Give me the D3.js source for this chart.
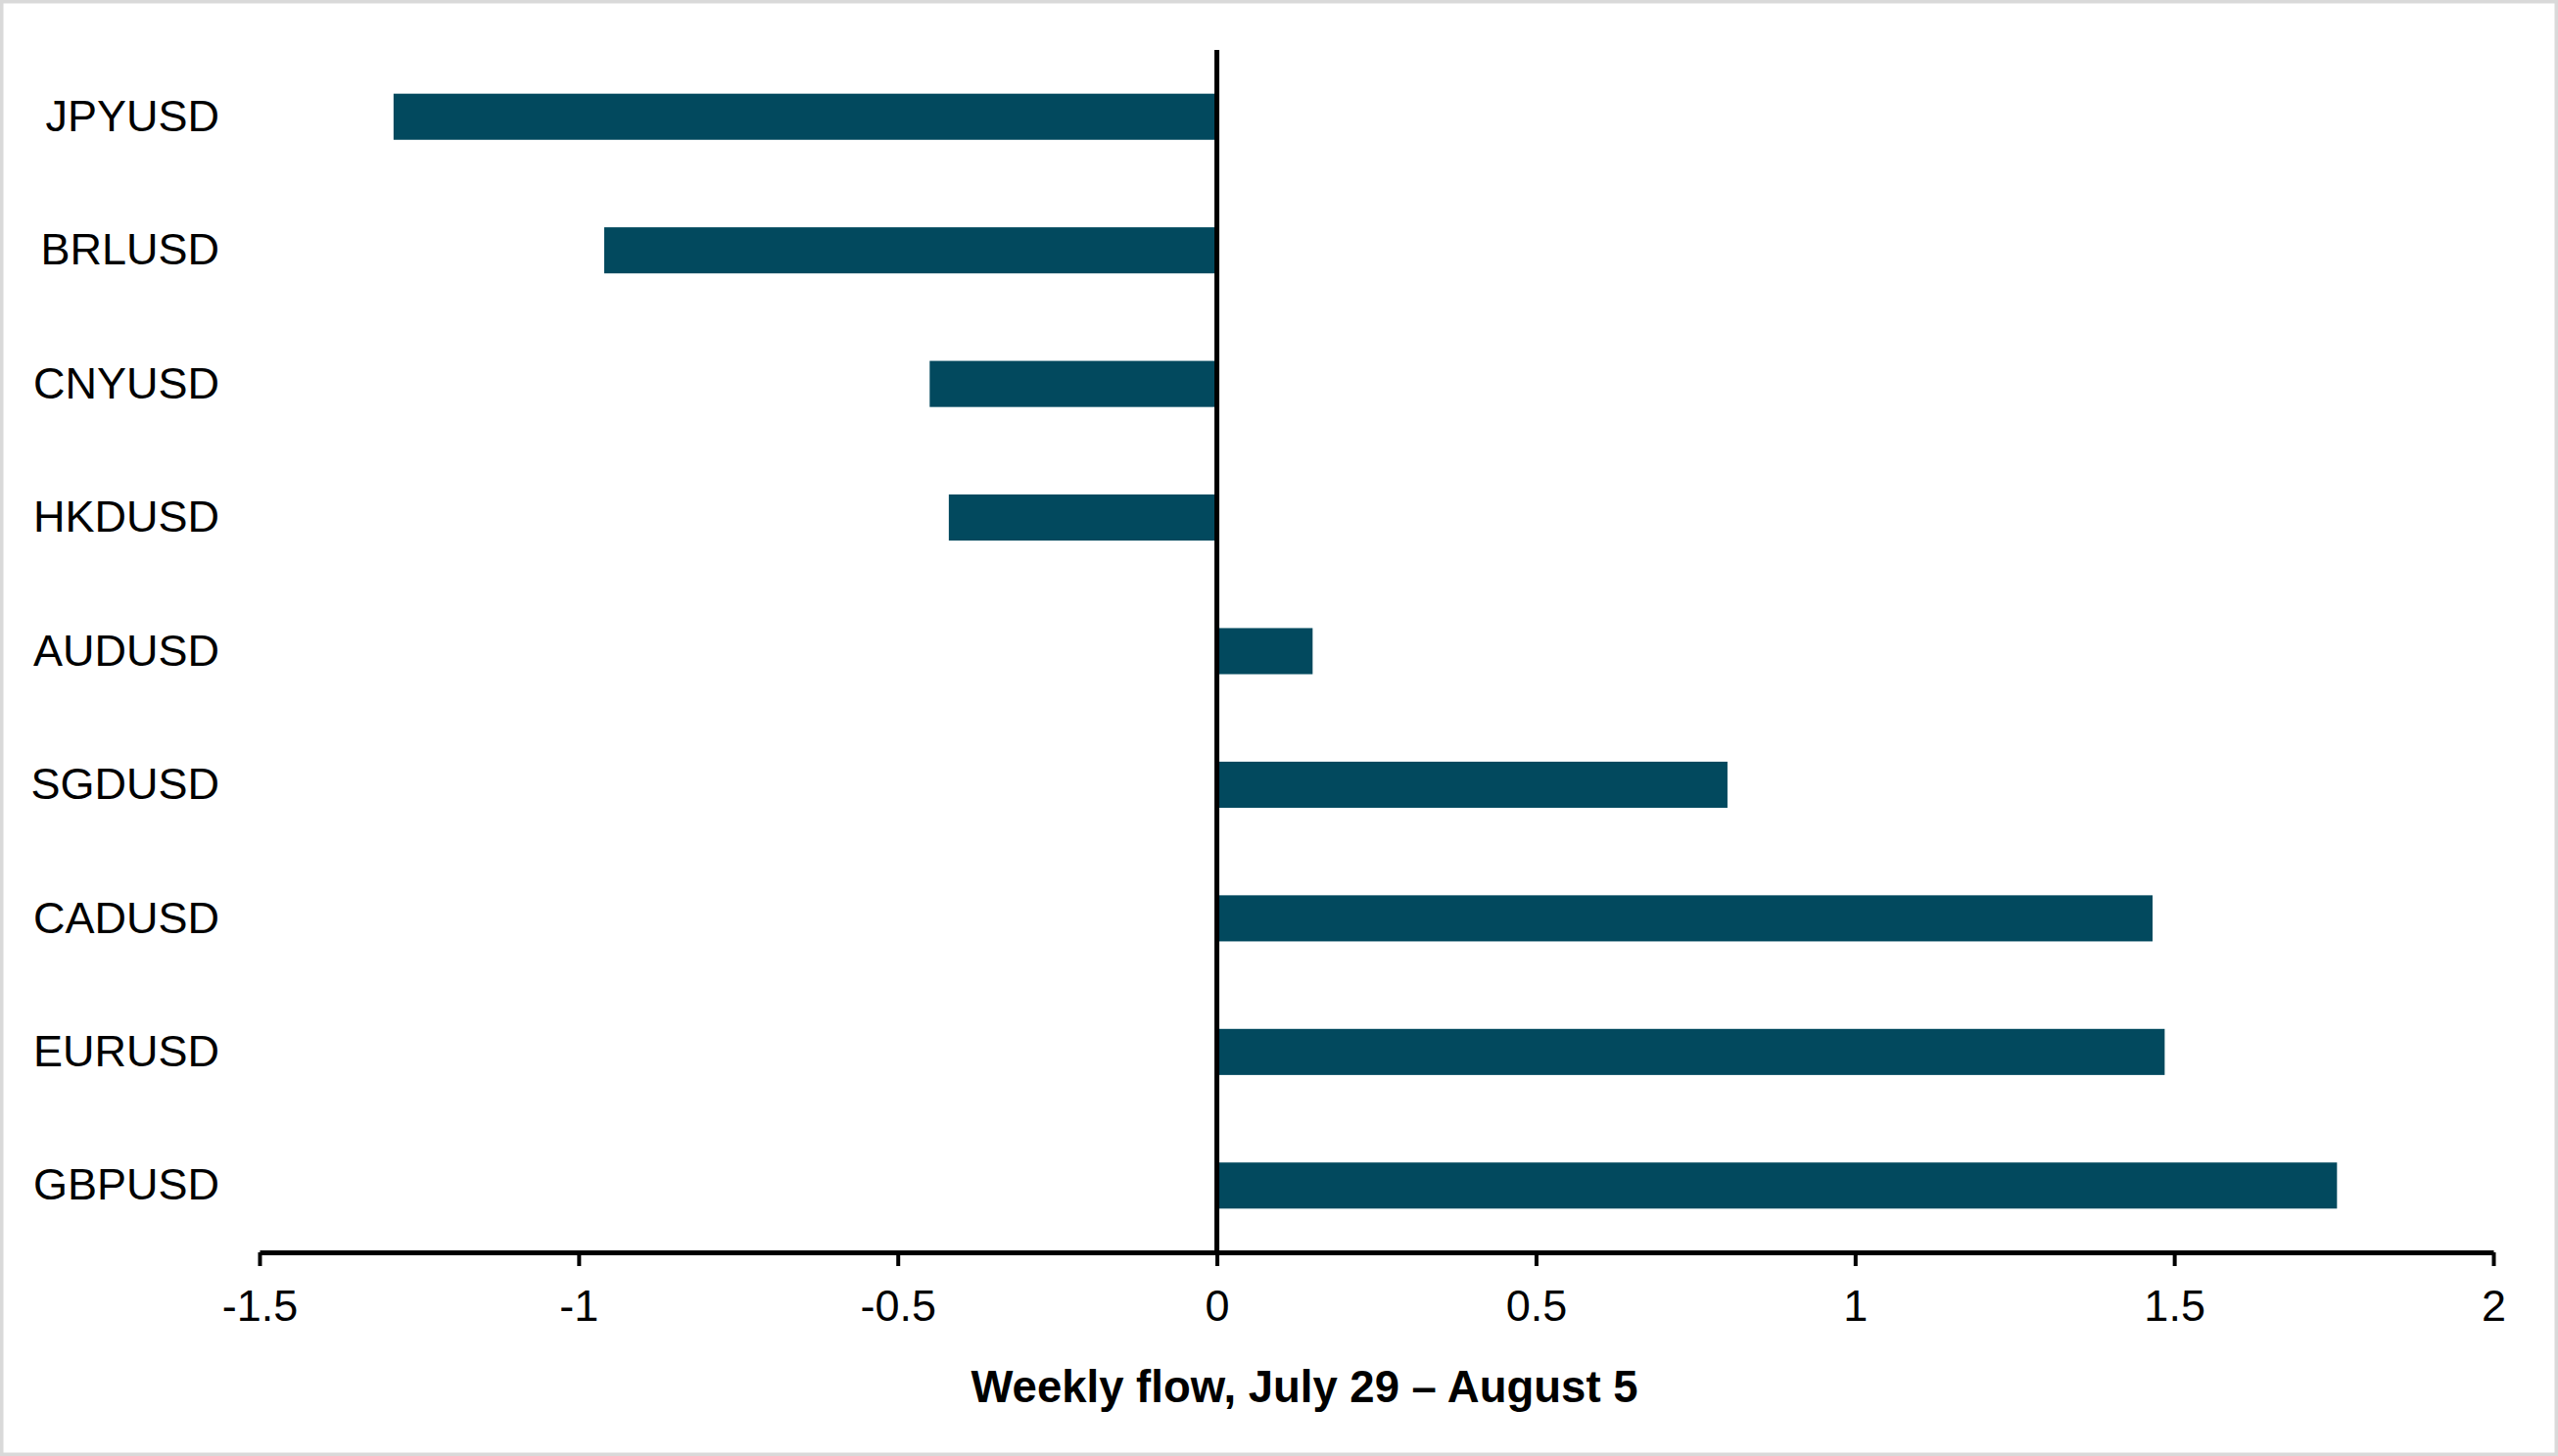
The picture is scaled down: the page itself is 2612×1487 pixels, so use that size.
<!DOCTYPE html>
<html>
<head>
<meta charset="utf-8">
<script src="https://cdn.jsdelivr.net/npm/d3@7"></script>
<style>
  body { margin: 0; background: #fff; }
  svg { display: block; font-family: "Liberation Sans", Arial, sans-serif; }
</style>
</head>
<body>
<div id="chart"></div>
<script>
// Data
const categories = ['JPYUSD', 'BRLUSD', 'CNYUSD', 'HKDUSD', 'AUDUSD', 'SGDUSD', 'CADUSD', 'EURUSD', 'GBPUSD'];
const flows = [-1.29, -0.96, -0.45, -0.42, 0.15, 0.80, 1.466, 1.485, 1.755];
const tickValues = [-1.5, -1, -0.5, 0, 0.5, 1, 1.5, 2];
const tickLabels = ['-1.5', '-1', '-0.5', '0', '0.5', '1', '1.5', '2'];
const axisTitle = 'Weekly flow, July 29 \u2013 August 5';

const width = 2612;
const height = 1487;
const barColor = '#02495e';
const fontSize = 45;

const svg = d3.select('#chart').append('svg')
    .attr('width', width)
    .attr('height', height);

// white page with a thin grey frame
svg.append('rect')
    .attr('x', 1.75).attr('y', 1.75)
    .attr('width', width - 3.5).attr('height', height - 3.5)
    .attr('fill', '#fff')
    .attr('stroke', '#d9d9d9')
    .attr('stroke-width', 3.5);

const x = d3.scaleLinear()
    .domain([-1.5, 2])
    .range([265, 2546]);

const y = d3.scaleBand()
    .domain(categories)
    .range([51, 1279])
    .paddingInner(0.655)
    .paddingOuter(0.3275);

const rows = categories.map((c, i) => ({name: c, value: flows[i]}));

// bars
svg.append('g').selectAll('rect.bar')
    .data(rows)
    .enter().append('rect')
        .attr('class', 'bar')
        .attr('x', d => x(Math.min(0, d.value)))
        .attr('y', d => y(d.name))
        .attr('width', d => Math.abs(x(d.value) - x(0)))
        .attr('height', y.bandwidth())
        .attr('fill', barColor);

// category labels, right aligned
svg.append('g').selectAll('text.cat')
    .data(rows)
    .enter().append('text')
        .attr('class', 'cat')
        .attr('x', 224)
        .attr('y', d => y(d.name) + y.bandwidth() / 2 - 1.5)
        .attr('dy', '0.36em')
        .attr('text-anchor', 'end')
        .attr('font-size', fontSize)
        .attr('fill', '#000')
        .text(d => d.name);

// zero line
svg.append('line')
    .attr('x1', x(0)).attr('x2', x(0))
    .attr('y1', 51).attr('y2', 1279)
    .attr('stroke', '#000')
    .attr('stroke-width', 5);

// x axis
const xAxis = d3.axisBottom(x)
    .tickValues(tickValues)
    .tickFormat((d, i) => tickLabels[i])
    .tickSize(14)
    .tickSizeOuter(0)
    .tickPadding(24);

const axisG = svg.append('g')
    .attr('transform', 'translate(0,1279)')
    .call(xAxis);

axisG.select('.domain')
    .attr('stroke', '#000')
    .attr('stroke-width', 5);
axisG.selectAll('.tick line')
    .attr('stroke', '#000')
    .attr('stroke-width', 4);
axisG.selectAll('.tick text')
    .attr('font-size', fontSize)
    .attr('font-family', '"Liberation Sans", Arial, sans-serif')
    .attr('fill', '#000');

// axis title
svg.append('text')
    .attr('x', 1332)
    .attr('y', 1432)
    .attr('text-anchor', 'middle')
    .attr('font-size', 45.5)
    .attr('font-weight', 'bold')
    .attr('fill', '#000')
    .text(axisTitle);
</script>
</body>
</html>
